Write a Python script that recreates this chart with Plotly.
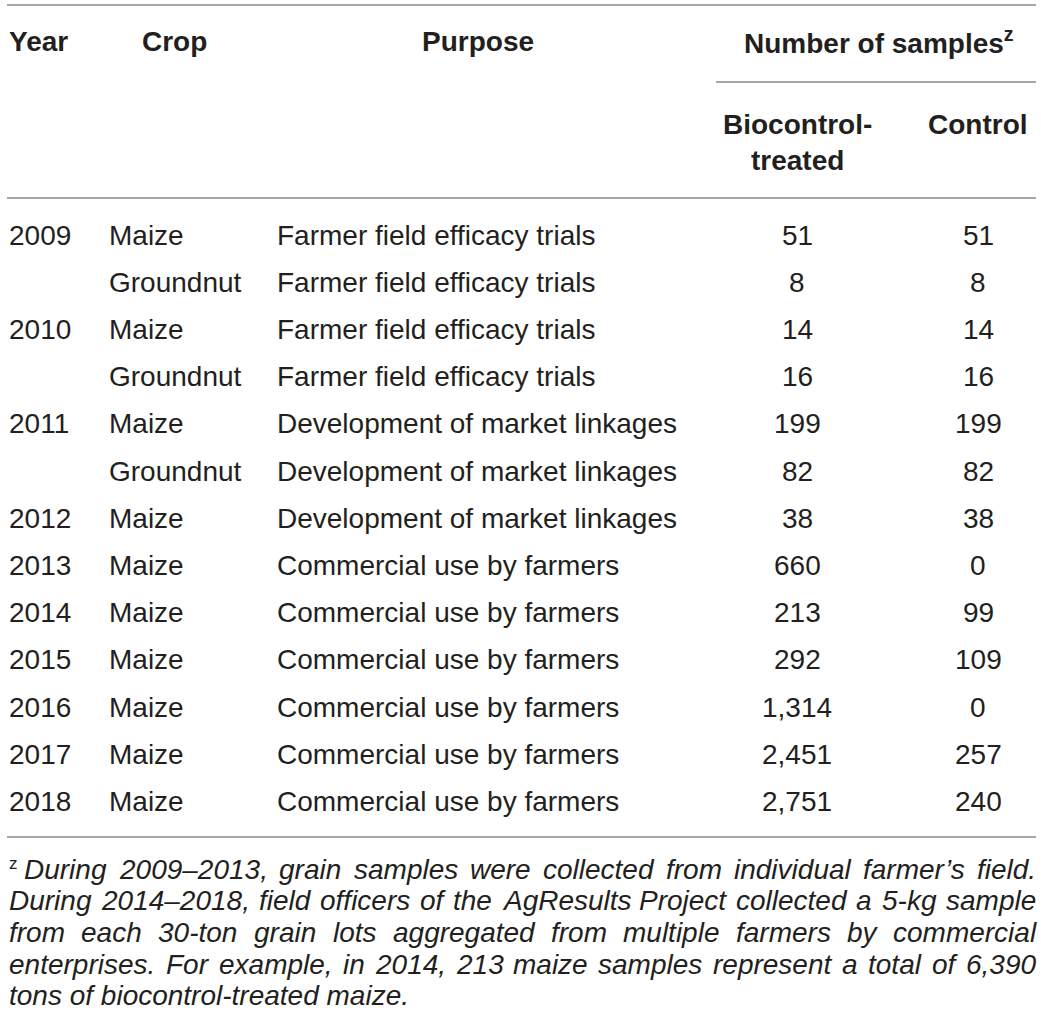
import plotly.graph_objects as go

# table content
years = ["2009", "", "2010", "", "2011", "", "2012", "2013", "2014", "2015", "2016", "2017", "2018"]
crops = ["Maize", "Groundnut", "Maize", "Groundnut", "Maize", "Groundnut", "Maize",
         "Maize", "Maize", "Maize", "Maize", "Maize", "Maize"]
purposes = ["Farmer field efficacy trials"] * 4 + ["Development of market linkages"] * 3 + \
           ["Commercial use by farmers"] * 6
treated = [51, 8, 14, 16, 199, 82, 38, 660, 213, 292, 1314, 2451, 2751]
control = [51, 8, 14, 16, 199, 82, 38, 0, 99, 109, 0, 257, 240]

header_top = ["Year", "Crop", "Purpose", "Number of samples<sup>z</sup>"]
header_sub = ["Biocontrol-<br>treated", "Control"]

footnote_lines = [
    "During 2009\u20132013, grain samples were collected from individual farmer\u2019s field.",
    "During 2014\u20132018, field officers of the AgResults Project collected a 5-kg sample",
    "from each 30-ton grain lots aggregated from multiple farmers by commercial",
    "enterprises. For example, in 2014, 213 maize samples represent a total of 6,390",
    "tons of biocontrol-treated maize.",
]

W, H = 1041, 1031
TEXT = "#231f20"
RULE = "#a6a6a6"
FONT = "Liberation Sans, Arial, Helvetica, sans-serif"
FS = 28
LEFT, RIGHT = 7, 1036

# Arial / Liberation Sans advance widths (units per 1000 em) for justification
widths = {c: 556 for c in "abdeghnopqu0123456789\u2013"}
widths.update({"c": 500, "k": 500, "s": 500, "v": 500, "x": 500, "y": 500, "z": 500,
               "f": 278, "t": 278, "i": 222, "j": 222, "l": 222, "m": 833, "r": 333,
               "w": 722, "A": 667, "D": 722, "F": 611, "P": 667, "R": 722,
               ",": 278, ".": 278, "-": 333, "\u2019": 222, " ": 278})


def text_width(s, size):
    return sum(widths.get(c, 556) for c in s) * size / 1000.0


fig = go.Figure()
ann = []


def add(x, y, text, anchor="left", size=FS, bold=False, italic=False):
    ann.append(dict(x=x, y=y, xref="x", yref="y", text=text, showarrow=False,
                    xanchor=anchor, yanchor="middle", align="center",
                    font=dict(family=FONT, size=size, color=TEXT,
                              weight="bold" if bold else "normal",
                              style="italic" if italic else "normal")))


# header
add(LEFT, 41, header_top[0], bold=True)
add(174, 41, header_top[1], anchor="center", bold=True)
add(478, 41, header_top[2], anchor="center", bold=True)
add(879, 41, header_top[3], anchor="center", bold=True)
add(797, 142, header_sub[0], anchor="center", bold=True)
add(978, 124, header_sub[1], anchor="center", bold=True)

# body rows
row0, step = 235, 47.2
for i in range(len(crops)):
    y = row0 + i * step
    if years[i]:
        add(LEFT, y, years[i])
    add(107, y, crops[i])
    add(275, y, purposes[i])
    add(797, y, f"{treated[i]:,}", anchor="center")
    add(978, y, f"{control[i]:,}", anchor="center")

# footnote, justified except the last line
FN = 28
fy0, fstep = 869, 31.7
add(LEFT, fy0 - 6, "z", size=17)
for k, line in enumerate(footnote_lines):
    y = fy0 + k * fstep
    start = LEFT + (15 if k == 0 else 0)
    words = line.split(" ")
    if k == len(footnote_lines) - 1:
        add(start, y, line, size=FN, italic=True)
        continue
    total = sum(text_width(w, FN) for w in words)
    gap = (RIGHT - 2 - start - total) / (len(words) - 1)
    x = start
    for w in words:
        add(x, y, w, size=FN, italic=True)
        x += text_width(w, FN) + gap

# horizontal rules
shapes = []
for (x0, x1, y) in [(LEFT, RIGHT, 5), (716, RIGHT, 82), (LEFT, RIGHT, 198), (LEFT, RIGHT, 837)]:
    shapes.append(dict(type="line", xref="x", yref="y", x0=x0, x1=x1, y0=y, y1=y,
                       line=dict(color=RULE, width=2)))

fig.update_layout(
    width=W, height=H,
    margin=dict(l=0, r=0, t=0, b=0),
    paper_bgcolor="white", plot_bgcolor="white",
    xaxis=dict(range=[0, W], visible=False, fixedrange=True),
    yaxis=dict(range=[H, 0], visible=False, fixedrange=True),
    annotations=ann, shapes=shapes, showlegend=False,
)

fig.write_html("out.html", config={"displayModeBar": False},
               post_script="document.body.style.margin='0';document.body.style.overflow='hidden';")
